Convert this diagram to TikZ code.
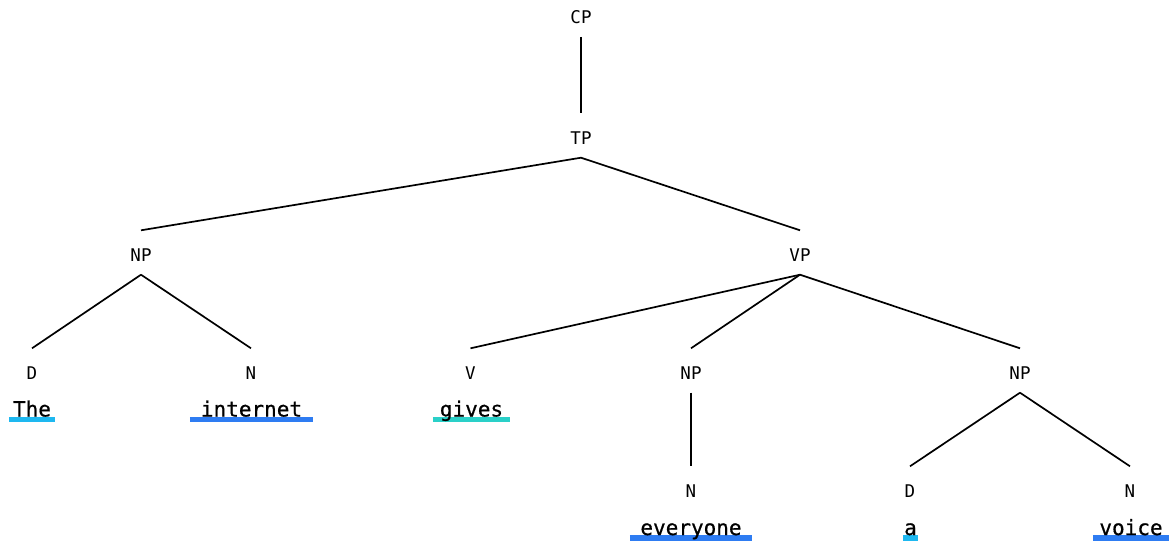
\documentclass[tikz,border=0pt]{standalone}
\usepackage{fontspec}
\usetikzlibrary{backgrounds}
\newfontfamily\catfont{DejaVu Sans Mono}
\newfontfamily\wordfont{DejaVu Sans Mono}[FakeBold=0.6]
\definecolor{ulcyan}{RGB}{30,184,240}
\definecolor{ulblue}{RGB}{46,124,242}
\definecolor{ulteal}{RGB}{42,208,200}
\begin{document}
\begin{tikzpicture}[x=1pt,y=-1pt,
  % category labels: placed by baseline; the box reaches up and down
  % far enough that branches stop short of the letters
  cat/.style={font=\catfont\fontsize{17.5}{20}\selectfont, inner sep=0pt,
              anchor=base, text height=30.5pt, text depth=13.5pt},
  word/.style={font=\wordfont\fontsize{21}{24}\selectfont, inner sep=0pt,
               anchor=base, minimum width=#1},
  branch/.style={line width=1.7pt, black},
  ul/.style={line width=5.5pt, #1}]
\useasboundingbox (0,0) rectangle (1173,543);

% category labels
\node[cat] (cp)  at (581,23.2)  {CP};
\node[cat] (tp)  at (581,144)   {TP};
\node[cat] (np1) at (141,261)   {NP};
\node[cat] (vp)  at (800,261)   {VP};
\node[cat] (d1)  at (32,379)    {D};
\node[cat] (n1)  at (251,379)   {N};
\node[cat] (v)   at (470.5,379) {V};
\node[cat] (np2) at (691,379)   {NP};
\node[cat] (np3) at (1020,379)  {NP};
\node[cat] (n2)  at (691,497)   {N};
\node[cat] (d2)  at (910,497)   {D};
\node[cat] (n3)  at (1130,497)  {N};

% branches
\draw[branch] (cp.south) -- (tp.north);
\draw[branch] (tp.south) -- (np1.north);
\draw[branch] (tp.south) -- (vp.north);
\draw[branch] (np1.south) -- (d1.north);
\draw[branch] (np1.south) -- (n1.north);
\draw[branch] (vp.south) -- (v.north);
\draw[branch] (vp.south) -- (np2.north);
\draw[branch] (vp.south) -- (np3.north);
\draw[branch] (np2.south) -- (n2.north);
\draw[branch] (np3.south) -- (d2.north);
\draw[branch] (np3.south) -- (n3.north);

% words
\node[word=46pt]  (wthe) at (32,416.5)    {The};
\node[word=123pt] (wint) at (251.5,416.5) {internet};
\node[word=77pt]  (wgiv) at (471.5,416.5) {gives};
\node[word=122pt] (wevr) at (691,535)     {everyone};
\node[word=15pt]  (wa)   at (910.5,535)   {a};
\node[word=76pt]  (wvoi) at (1131,535)    {voice};

% coloured underlines, kept behind the letters
\begin{pgfonlayer}{background}
\draw[ul=ulcyan] ([yshift=-3pt]wthe.base west) -- ([yshift=-3pt]wthe.base east);
\draw[ul=ulblue] ([yshift=-3pt]wint.base west) -- ([yshift=-3pt]wint.base east);
\draw[ul=ulteal] ([yshift=-3pt]wgiv.base west) -- ([yshift=-3pt]wgiv.base east);
\draw[ul=ulblue] ([yshift=-3pt]wevr.base west) -- ([yshift=-3pt]wevr.base east);
\draw[ul=ulcyan] ([yshift=-3pt]wa.base west) -- ([yshift=-3pt]wa.base east);
\draw[ul=ulblue] ([yshift=-3pt]wvoi.base west) -- ([yshift=-3pt]wvoi.base east);
\end{pgfonlayer}
\end{tikzpicture}
\end{document}
